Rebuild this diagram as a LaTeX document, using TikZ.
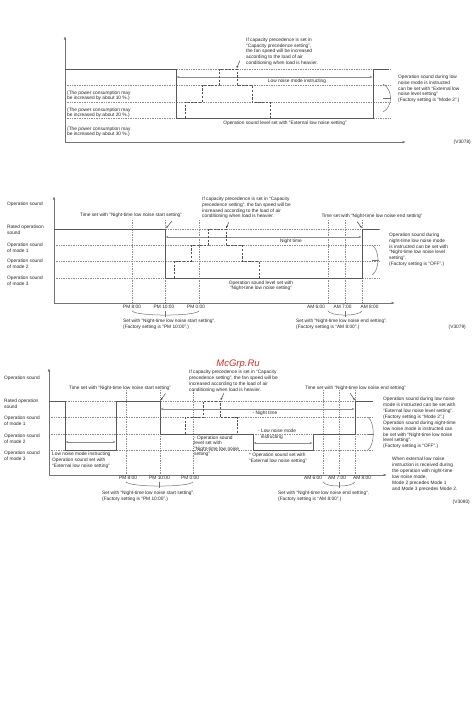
\documentclass[tikz,border=0pt]{standalone}
\usepackage{fontspec}
\setmainfont{Liberation Sans}
\usetikzlibrary{arrows.meta}
\definecolor{wmred}{RGB}{205,45,45}
\begin{document}
\begin{tikzpicture}[x=1pt,y=-1pt,
  txt/.style={font=\fontsize{4.8}{5.7}\selectfont, text=black!85, inner sep=0pt, align=left, anchor=north west},
  ctxt/.style={font=\fontsize{4.8}{5.4}\selectfont, text=black!85, inner sep=0pt, align=center},
  axis/.style={draw=black!55, line width=0.6pt, -{Latex[length=3.5pt,width=2.4pt]}},
  lvl/.style={draw=black!65, line width=1.0pt},
  grid/.style={draw=black!45, line width=0.45pt, dash pattern=on 0.6pt off 1.1pt},
  stepdash/.style={draw=black!68, line width=0.8pt, dash pattern=on 2.2pt off 1.5pt},
  span/.style={draw=black!45, line width=0.6pt, {Latex[length=3pt,width=2.2pt]}-{Latex[length=3pt,width=2.2pt]}},
  leader/.style={draw=black!70, line width=0.5pt, -{Latex[length=2.6pt,width=2pt]}},
  brace/.style={draw=black!55, line width=0.5pt}
]
\fill[white] (0,0) rectangle (474,726);
\useasboundingbox (0,0) rectangle (474,726);

% ================= TOP PANEL =================
\draw[grid] (65,69)--(390,69) (65,85)--(390,85) (65,102)--(390,102) (65,118)--(390,118);
\draw[axis] (65,142)--(65,36);
\draw[axis] (65,142)--(406,142);
\draw[lvl] (65,69)--(176,69)--(176,118)--(373,118)--(373,69)--(389,69);
\draw[span] (176,77)--(373,77);
\node[ctxt] (t-lnm) at (297,81.5) {Low noise mode instructing};
\draw[stepdash] (185,118)--(185,102)--(202,102)--(202,85)--(219,85)--(219,69)--(237,69)--(237,85)--(252,85)--(252,102)--(270,102)--(270,118);
\node[txt, font=\fontsize{4.8}{5.6}\selectfont] (t-cap) at (246,38) {If capacity precedence is set in\\“Capacity precedence setting”,\\the fan speed will be increased\\according to the load of air\\conditioning when load is heavier.};
\coordinate (t-capA) at (240,60.5);
\coordinate (t-capB) at (236.5,68.5);
\draw[leader] (t-capA)--(t-capB);
\node[txt] (t-p10) at (67,90.4) {(The power consumption may\\be increased by about 10 \%.)};
\node[txt] (t-p20) at (67,107.6) {(The power consumption may\\be increased by about 20 \%.)};
\node[txt] (t-p30) at (67,126.6) {(The power consumption may\\be increased by about 30 \%.)};
\node[ctxt] (t-lvl) at (285,123) {Operation sound level set with “External low noise setting”};
\node[txt] (t-right) at (398,75) {Operation sound during low\\noise mode is instructed\\can be set with “External low\\noise level setting”\\(Factory setting is “Mode 2”.)};
\draw[brace] (383,84) .. controls (393,89) and (393,107) .. (383,112);
\draw[brace] (383,98)--(391,98);
\node[ctxt, anchor=east] (t-v) at (471,142) {(V3078)};

% ================= MIDDLE PANEL =================
\node[txt] (m-l0) at (7,202.3) {Operation sound};
\node[txt] (m-l1) at (7,225.3) {Rated operatison\\sound};
\node[txt] (m-l2) at (7,242.7) {Operation sound\\of mode 1};
\node[txt] (m-l3) at (7,259.3) {Operation sound\\of mode 2};
\node[txt] (m-l4) at (7,276.3) {Operation sound\\of mode 3};
\draw[grid] (54,229)--(380,229) (54,245)--(380,245) (54,261)--(380,261) (54,278)--(380,278);
\foreach \x in {132,165,199,328,345,362} \draw[grid] (\x,220)--(\x,303);
\draw[axis] (54,303)--(54,196);
\draw[axis] (54,303)--(395,303);
\draw[lvl] (54,229)--(165,229)--(165,278)--(362,278)--(362,229)--(379,229);
\draw[span] (165,237)--(362,237);
\node[ctxt] (m-nt) at (291,241.5) {Night time};
\draw[stepdash] (174,278)--(174,261)--(191,261)--(191,245)--(208,245)--(208,229)--(226,229)--(226,245)--(242,245)--(242,261)--(259,261)--(259,278);
\node[txt, font=\fontsize{4.8}{5.6}\selectfont] (m-cap) at (202,197.3) {If capacity precedence is set in “Capacity\\precedence setting”, the fan speed will be\\increased according to the load of air\\conditioning when load is heavier.};
\coordinate (m-capA) at (229,222);
\coordinate (m-capB) at (226,228.5);
\draw[leader] (m-capA)--(m-capB);
\node[ctxt] (m-ts) at (131,215.5) {Time set with “Night-time low noise start setting”};
\coordinate (m-tsA) at (172,221);
\coordinate (m-tsB) at (166,228.3);
\draw[leader] (m-tsA)--(m-tsB);
\node[ctxt] (m-te) at (372,216) {Time set with “Night-time low noise end setting”};
\coordinate (m-teA) at (357,221.5);
\coordinate (m-teB) at (362,228.3);
\draw[leader] (m-teA)--(m-teB);
\node[ctxt] (m-lvl) at (261,286) {Operation sound level set with\\“Night-time low noise setting”};
\node[ctxt] (m-x1) at (132,306.5) {PM 8:00};
\node[ctxt] (m-x2) at (164,306.5) {PM 10:00};
\node[ctxt] (m-x3) at (196,306.5) {PM 0:00};
\node[ctxt] (m-x4) at (316,306.5) {AM 6:00};
\node[ctxt] (m-x5) at (342.5,306.5) {AM 7:00};
\node[ctxt] (m-x6) at (369.5,306.5) {AM 8:00};
\draw[brace] (132,310.7) .. controls (134,316.5) and (197,316.5) .. (199,310.7);
\draw[brace] (165.7,310.7)--(165.7,317);
\draw[brace] (328,310.7) .. controls (330,316.5) and (360,316.5) .. (362,310.7);
\draw[brace] (345,310.7)--(345,317);
\node[txt] (m-ss) at (123,318.7) {Set with “Night-time low noise start setting”.\\(Factory setting is “PM 10:00”.)};
\node[txt] (m-se) at (296,318.7) {Set with “Night-time low noise end setting”.\\(Factory setting is “AM 8:00”.)};
\node[ctxt, anchor=east] (m-v) at (466,327.7) {(V3079)};
\node[txt] (m-right) at (389,233) {Operation sound during\\night-time low noise mode\\is instructed can be set with\\“Night-time low noise level\\setting”.\\(Factory setting is “OFF”.)};
\draw[brace] (372,245) .. controls (380,250) and (380,270) .. (372,275);
\draw[brace] (372,260)--(379,260);

% ================= BOTTOM PANEL =================
\node[font=\fontsize{9.5}{10}\selectfont\itshape, text=wmred, inner sep=0pt] (wm) at (238,364) {McGrp.Ru};
\node[txt] (b-l0) at (4,376.3) {Operation sound};
\node[txt] (b-l1) at (4,399.3) {Rated operation\\sound};
\node[txt] (b-l2) at (4,416.3) {Operation sound\\of mode 1};
\node[txt] (b-l3) at (4,433.7) {Operation sound\\of mode 2};
\node[txt] (b-l4) at (4,450.7) {Operation sound\\of mode 3};
\draw[grid] (49,401)--(373,401) (49,417.5)--(373,417.5) (49,434)--(373,434) (49,450)--(373,450);
\foreach \x in {126,160,193,323,339,355} \draw[grid] (\x,390)--(\x,475);
\draw[axis] (49,475)--(49,368);
\draw[axis] (49,475)--(387,475);
\draw[lvl] (49,401)--(65,401)--(65,450)--(116,450)--(116,401)--(160,401)--(160,434)--(253,434)--(253,450)--(313,450)--(313,434)--(355,434)--(355,401)--(373,401);
\draw[span] (65,442)--(116,442);
\node[txt] (b-lnm) at (52,452) {Low noise mode instructing\\Operation sound set with\\“External low noise setting”};
\draw[span] (160,409)--(355,409);
\node[ctxt] (b-nt) at (265,413) {- Night time};
\draw[stepdash] (185,434)--(185,417.5)--(203,417.5)--(203,401)--(220,401)--(220,417.5)--(237,417.5)--(237,434);
\node[txt, font=\fontsize{4.8}{5.9}\selectfont] (b-cap) at (189,370.3) {If capacity precedence is set in “Capacity\\precedence setting”, the fan speed will be\\increased according to the load of air\\conditioning when load is heavier.};
\coordinate (b-capA) at (224,393);
\coordinate (b-capB) at (220.5,400.5);
\draw[leader] (b-capA)--(b-capB);
\node[ctxt] (b-ts) at (120,388.3) {Time set with “Night-time low noise start setting”};
\coordinate (b-tsA) at (165.5,393.5);
\coordinate (b-tsB) at (160.5,400.5);
\draw[leader] (b-tsA)--(b-tsB);
\node[ctxt] (b-te) at (355.5,388) {Time set with “Night-time low noise end setting”};
\coordinate (b-teA) at (350,393);
\coordinate (b-teB) at (355,400.5);
\draw[leader] (b-teA)--(b-teB);
\node[txt, font=\fontsize{4.8}{5.6}\selectfont] (b-lvl) at (194,435.5) {- Operation sound\\level set with\\“Night-time low noise\\setting”};
\node[txt] (b-lnm2) at (258,429) {- Low noise mode\\\ \ instructing};
\draw[span] (253,443)--(313,443);
\node[txt, font=\fontsize{4.8}{5.9}\selectfont] (b-ext) at (249,453) {* Operation sound set with\\“External low noise setting”};
\node[ctxt] (b-x1) at (128,478.3) {PM 8:00};
\node[ctxt] (b-x2) at (159.5,478.3) {PM 10:00};
\node[ctxt] (b-x3) at (190,478.3) {PM 0:00};
\node[ctxt] (b-x4) at (313,478.3) {AM 6:00};
\node[ctxt] (b-x5) at (337,478.3) {AM 7:00};
\node[ctxt] (b-x6) at (362,478.3) {AM 8:00};
\draw[brace] (126,481.7) .. controls (128,487.5) and (191,487.5) .. (193,481.7);
\draw[brace] (159.5,481.7)--(159.5,488.3);
\draw[brace] (323,481.7) .. controls (325,487.5) and (353,487.5) .. (355,481.7);
\draw[brace] (339,481.7)--(339,488.3);
\node[txt] (b-ss) at (102,491.3) {Set with “Night-time low noise start setting”.\\(Factory setting is “PM 10:00”.)};
\node[txt] (b-se) at (278,491.3) {Set with “Night-time low noise end setting”.\\(Factory setting is “AM 8:00”.)};
\node[ctxt, anchor=east] (b-v) at (470,502) {(V3080)};
\node[txt, font=\fontsize{4.8}{5.9}\selectfont] (b-right) at (383,397) {Operation sound during low noise\\mode is instructed can be set with\\“External low noise level setting”.\\(Factory setting is “Mode 2”.)\\Operation sound during night-time\\low noise mode is instructed can\\be set with “Night-time low noise\\level setting”.\\(Factory setting is “OFF”.)};
\draw[brace] (368,417.3) .. controls (375,422) and (375,445) .. (368,450);
\draw[brace] (368,434)--(373.5,434);
\node[txt, font=\fontsize{4.8}{5.9}\selectfont] (b-when) at (392,457) {When external low noise\\instruction is received during\\the operation with night-time\\low noise mode,\\Mode 2 precedes Mode 1\\and Mode 3 precedes Mode 2.};
\end{tikzpicture}
\end{document}
